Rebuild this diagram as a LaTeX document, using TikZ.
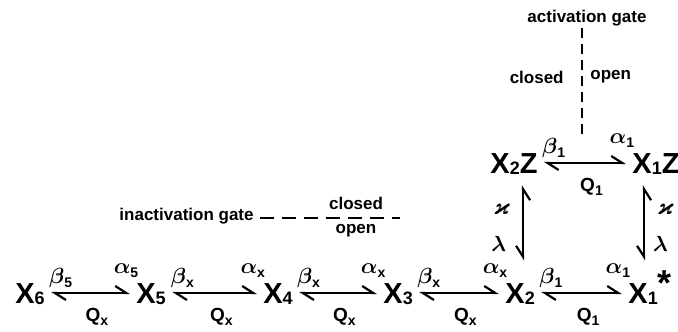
\documentclass[tikz,border=0pt]{standalone}
\usepackage{fontspec}
\setmainfont{Liberation Sans}
\usepackage{amsmath,amssymb,bm}
\usetikzlibrary{arrows.meta}
\newcommand{\lowidx}[1]{\raisebox{-0.6pt}{\fontsize{9}{9}\selectfont #1}}
\newcommand{\rate}[2]{$\bm{#1}$\raisebox{-2pt}{\fontsize{7}{7}\selectfont\bfseries #2}}
\newcommand{\qrate}[1]{Q\raisebox{-2pt}{\fontsize{7}{7}\selectfont #1}}

\begin{document}
\begin{tikzpicture}[
  x=0.5pt, y=-0.5pt,
  st/.style={font=\fontsize{14.5}{16}\selectfont\bfseries, inner sep=3pt,
             text height=10pt, text depth=0pt, anchor=base west},
  gate/.style={font=\fontsize{8.5}{9}\selectfont\bfseries, inner sep=1pt},
  rl/.style={font=\fontsize{11}{12}\selectfont, inner sep=1pt},
  ql/.style={font=\fontsize{9.5}{10}\selectfont\bfseries, inner sep=1pt},
  eq/.style={line width=1.1pt,
             {Straight Barb[harpoon,length=5.5pt,width=7pt]}-{Straight Barb[harpoon,length=5.5pt,width=7pt]}},
  eqv/.style={line width=1.1pt,
             {Straight Barb[harpoon,swap,length=5.5pt,width=7pt]}-{Straight Barb[harpoon,swap,length=5.5pt,width=7pt]}},
  dsh/.style={line width=1.1pt, dash pattern=on 7pt off 4pt},
  dshv/.style={line width=1.1pt, dash pattern=on 5pt off 3pt}
]
\useasboundingbox (0,0) rectangle (678,331);

\node[st] (x6) at (9,303)   {X\lowidx{6}};
\node[st] (x5) at (130,303) {X\lowidx{5}};
\node[st] (x4) at (257,303) {X\lowidx{4}};
\node[st] (x3) at (377,303) {X\lowidx{3}};
\node[st] (x2) at (499,303) {X\lowidx{2}};
\node[st] (x1) at (622,303) {X\lowidx{1}\raisebox{4pt}{\fontsize{18}{18}\selectfont *}};
\node[st] (x2z) at (484,173) {X\lowidx{2}Z};
\node[st] (x1z) at (626,173) {X\lowidx{1}Z};

% Chaine inferieure, puis le carre du haut.
\draw[eq] (x6) -- (x5)
  node[rl, pos=.12, above=1pt] {\rate{\beta}{5}}
  node[rl, pos=.95, above=6pt] {\rate{\alpha}{5}}
  node[ql, pos=.58, below=6pt] {\qrate{x}};
\draw[eq] (x5) -- (x4)
  node[rl, pos=.12, above=1pt] {\rate{\beta}{x}}
  node[rl, pos=.95, above=6pt] {\rate{\alpha}{x}}
  node[ql, pos=.58, below=6pt] {\qrate{x}};
\draw[eq] (x4) -- (x3)
  node[rl, pos=.12, above=1pt] {\rate{\beta}{x}}
  node[rl, pos=.95, above=6pt] {\rate{\alpha}{x}}
  node[ql, pos=.58, below=6pt] {\qrate{x}};
\draw[eq] (x3) -- (x2)
  node[rl, pos=.12, above=1pt] {\rate{\beta}{x}}
  node[rl, pos=.95, above=6pt] {\rate{\alpha}{x}}
  node[ql, pos=.58, below=6pt] {\qrate{x}};
\draw[eq] (x2) -- (x1)
  node[rl, pos=.12, above=1pt] {\rate{\beta}{1}}
  node[rl, pos=.95, above=6pt] {\rate{\alpha}{1}}
  node[ql, pos=.58, below=6pt] {\qrate{1}};
\draw[eq] (x2z) -- (x1z)
  node[rl, pos=.12, above=1pt] {\rate{\beta}{1}}
  node[rl, pos=.95, above=6pt] {\rate{\alpha}{1}}
  node[ql, pos=.58, below=6pt] {\qrate{1}};

\draw[eqv, shorten <=3pt, shorten >=8pt] ([xshift=1.5pt]x2.north |- x2z.south) -- ([xshift=1.5pt]x2.north)
  node[rl, pos=.31, left=5pt] {$\bm{\varkappa}$}
  node[rl, pos=.66, left=7pt] {$\bm{\lambda}$};
\draw[eqv, shorten <=3pt, shorten >=8pt] ([xshift=-3pt]x1.north |- x1z.south) -- ([xshift=-3pt]x1.north)
  node[rl, pos=.31, right=5pt] {$\bm{\varkappa}$}
  node[rl, pos=.66, right=3pt] {$\bm{\lambda}$};

\node[gate] (act) at (587,18) {activation gate};
\coordinate (actend) at (582,135);
\draw[dshv] (actend |- act.south) -- (actend);
\node[gate, anchor=east] (actc) at (566,77) {closed};
\node[gate, anchor=west] (acto) at (588,77) {open};

\node[gate, anchor=east] (inact) at (256,216) {inactivation gate};
\coordinate (inactend) at (400,218);
\draw[dsh, shorten <=2pt] (inact.east |- inactend) -- (inactend);
\node[gate] (inc) at (356,203) {closed};
\node[gate] (ino) at (356,231) {open};
\end{tikzpicture}
\end{document}
